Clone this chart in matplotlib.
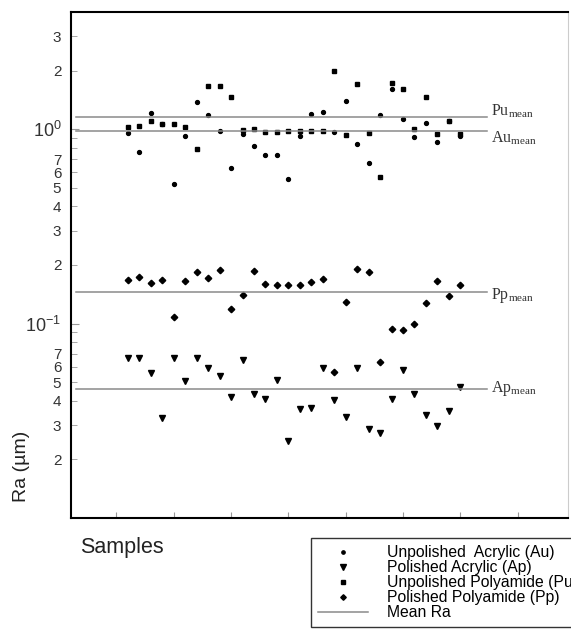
import matplotlib.pyplot as plt
import numpy as np
from matplotlib.ticker import FixedLocator, FixedFormatter

plt.rcParams['font.family'] = ['Liberation Sans', 'DejaVu Sans']

# sample index
samples = list(range(1, 31))

# Ra values (um)
au = [0.95, 0.765, 1.21, 1.06, 0.522, 0.924, 1.38, 1.175, 0.977, 0.629,
      0.946, 0.821, 0.738, 0.738, 0.554, 0.921, 1.19, 1.22, 0.962, 1.40,
      0.835, 0.667, 1.18, 1.61, 1.13, 0.907, 1.08, 0.855, 1.095, 0.921]
pu = [1.02, 1.04, 1.10, 1.06, 1.06, 1.02, 0.792, 1.66, 1.66, 1.46,
      0.985, 1.0, 0.965, 0.97, 0.977, 0.977, 0.977, 0.98, 2.0, 0.932,
      1.70, 0.957, 0.565, 1.73, 1.60, 0.996, 1.47, 0.946, 1.095, 0.946]
pp = [0.1675, 0.174, 0.162, 0.168, 0.108, 0.166, 0.185, 0.171, 0.188, 0.119,
      0.140, 0.186, 0.160, 0.158, 0.158, 0.158, 0.164, 0.169, 0.0562, 0.129,
      0.190, 0.185, 0.0637, 0.0935, 0.093, 0.099, 0.127, 0.166, 0.139, 0.157]
ap = [0.0662, 0.0662, 0.0555, 0.0326, 0.0662, 0.0506, 0.0662, 0.0594, 0.0538, 0.0419,
      0.0646, 0.0433, 0.0407, 0.0514, 0.0248, 0.0365, 0.0366, 0.0594, 0.0406, 0.0330,
      0.0594, 0.0287, 0.0275, 0.0409, 0.0579, 0.0433, 0.0340, 0.0297, 0.0355, 0.0473]

# mean lines
mean_names = ['Pu', 'Au', 'Pp', 'Ap']
mean_vals = [1.156, 0.977, 0.145, 0.046]
mean_label_y = [1.23, 0.894, 0.139, 0.0464]

fig = plt.figure(figsize=(5.71, 6.39), dpi=100)
ax = fig.add_axes([71/571, 1-518/639, 497/571, 506/639])

ax.plot(samples, au, 'o', color='k', ms=2.8, ls='none', label='Unpolished  Acrylic (Au)')
ax.plot(samples, ap, 'v', color='k', ms=4.6, ls='none', label='Polished Acrylic (Ap)')
ax.plot(samples, pu, 's', color='k', ms=3.0, ls='none', label='Unpolished Polyamide (Pu)')
ax.plot(samples, pp, 'D', color='k', ms=3.3, ls='none', label='Polished Polyamide (Pp)')

for i, (name, m, ly) in enumerate(zip(mean_names, mean_vals, mean_label_y)):
    ax.plot([-3.53, 32.3], [m, m], color='#8a8a8a', lw=1.1,
            label='Mean Ra' if i == 0 else None)
    ax.text(32.7, ly, r'$\mathregular{%s_{mean}}$' % name, family='Liberation Serif',
            fontsize=11.5, color='#333333', va='center', ha='left')

ax.set_yscale('log')
ax.set_ylim(0.01, 4)
ax.set_xlim(-3.97, 39.4)

# y ticks
ax.yaxis.set_major_locator(FixedLocator([0.1, 1]))
ax.yaxis.set_major_formatter(FixedFormatter([r'$\mathregular{10^{-1}}$', r'$\mathregular{10^{0}}$']))
minor_pos = []
minor_lab = []
for dec in [0.01, 0.1, 1]:
    for d in range(2, 10):
        minor_pos.append(d * dec)
        minor_lab.append(str(d) if d <= 7 and d * dec < 4 else '')
ax.yaxis.set_minor_locator(FixedLocator(minor_pos))
ax.yaxis.set_minor_formatter(FixedFormatter(minor_lab))
ax.tick_params(axis='y', which='both', direction='in', color='#999999', labelcolor='#333333', pad=7)
ax.tick_params(axis='y', which='major', length=6, labelsize=13)
ax.tick_params(axis='y', which='minor', length=4, labelsize=11)

# x ticks
ax.set_xticks(range(0, 36, 5))
ax.set_xticklabels([])
ax.tick_params(axis='x', which='both', direction='in', length=4, color='#999999')

for s in ['left', 'bottom', 'top']:
    ax.spines[s].set_linewidth(1.5)
    ax.spines[s].set_color('k')
ax.spines['right'].set_color('#cccccc')
ax.spines['right'].set_linewidth(0.8)

fig.text(22/571, 1-466/639, 'Ra (µm)', rotation=90, fontsize=14, color='#222222',
         ha='center', va='center')
fig.text(80/571, 1-548/639, 'Samples', fontsize=15.5, color='#222222', ha='left', va='center')

fig.legend(loc='upper left', bbox_to_anchor=(311/571, 1-538/639), borderaxespad=0,
           fancybox=False, edgecolor='#333333', framealpha=1, fontsize=11.3,
           handlelength=3.2, handletextpad=1.2, labelspacing=0.0, borderpad=0.45,
           markerscale=0.85)

fig.savefig('out.png', dpi=100)
